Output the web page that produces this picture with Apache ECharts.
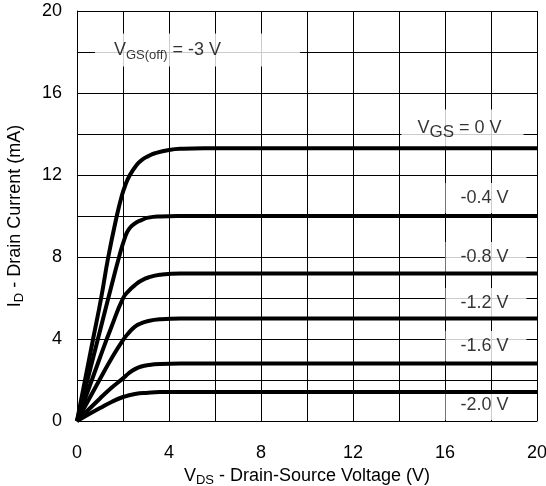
<!DOCTYPE html>
<html>
<head>
<meta charset="utf-8">
<script src="https://cdn.jsdelivr.net/npm/echarts@6/dist/echarts.min.js"></script>
<style>
  html, body { margin: 0; padding: 0; background: #fff; }
  #chart { width: 546px; height: 486px; }
</style>
</head>
<body>
<div id="chart"></div>
<script>
// drain curves: [Vds (V), Id (mA)]
var vgs0 = [[0, 0], [0.7, 4], [1.05, 6], [1.36, 8], [1.73, 10], [1.94, 10.95], [2.1, 11.5], [2.3, 12], [2.6, 12.5], [2.81, 12.73], [3.1, 12.92], [3.39, 13.06], [4, 13.22], [4.6, 13.28], [5.5, 13.3], [20, 13.3]];
var vgs04 = [[0, 0], [1, 4.4], [1.5, 6.6], [1.83, 8], [2.07, 8.9], [2.25, 9.35], [2.52, 9.64], [2.8, 9.8], [3.1, 9.92], [3.6, 9.98], [4.4, 10], [20, 10]];
var vgs08 = [[0, 0], [1, 3.1], [1.5, 4.6], [2, 5.98], [2.25, 6.35], [2.52, 6.63], [2.8, 6.85], [3.1, 7.0], [3.6, 7.13], [4.5, 7.2], [20, 7.2]];
var vgs12 = [[0, 0], [1, 2.05], [1.5, 3.05], [2, 3.95], [2.25, 4.3], [2.52, 4.6], [2.8, 4.77], [3.1, 4.88], [3.6, 4.96], [4.5, 5], [20, 5]];
var vgs16 = [[0, 0], [1, 1.1], [1.5, 1.62], [2, 2.08], [2.25, 2.33], [2.52, 2.53], [2.8, 2.66], [3.1, 2.73], [3.6, 2.78], [4.5, 2.8], [20, 2.8]];
var vgs20 = [[0, 0], [1, 0.63], [1.5, 0.93], [2, 1.17], [2.52, 1.32], [3.1, 1.38], [3.6, 1.41], [4.5, 1.42], [20, 1.42]];

var curveNames = ['0 V', '-0.4 V', '-0.8 V', '-1.2 V', '-1.6 V', '-2.0 V'];
var curves = [vgs0, vgs04, vgs08, vgs12, vgs16, vgs20];

var labelTexts = ['{v|V}{s|GS(off)}{v| = -3 V}', '{v|V}{g|GS}{v| = 0 V}', '-0.4 V', '-0.8 V', '-1.2 V', '-1.6 V', '-2.0 V'];

var font = 'Liberation Sans, Arial, sans-serif';

// where the white label boxes sit, in axis units, and their padding
var labelSpots = [
  { at: [5.24, 18.1], pad: [5, 79, 5, 19] },
  { at: [16.76, 14.29], pad: [6, 22, 6, 16] },
  { at: [17.78, 10.88], pad: [6, 18, 6, 15] },
  { at: [17.78, 8.0], pad: [6, 18, 6, 15] },
  { at: [17.78, 5.76], pad: [6, 18, 6, 15] },
  { at: [17.78, 3.66], pad: [6, 18, 6, 15] },
  { at: [17.78, 0.78], pad: [6, 18, 6, 15] }
];

var chart = echarts.init(document.getElementById('chart'));

var series = [];
for (var i = 0; i < curves.length; i++) {
  series.push({
    name: curveNames[i],
    type: 'line',
    data: curves[i],
    smooth: 0.5,
    showSymbol: false,
    lineStyle: { color: '#000', width: 4 },
    z: 5,
    animation: false
  });
}

series.push({
  type: 'scatter',
  symbolSize: 1,
  itemStyle: { color: 'rgba(0,0,0,0)' },
  z: 3,
  animation: false,
  silent: true,
  data: labelTexts.map(function (t, k) {
    return {
      value: labelSpots[k].at,
      label: {
        show: true,
        position: 'inside',
        formatter: t,
        backgroundColor: '#fff',
        padding: labelSpots[k].pad,
        color: '#000',
        fontSize: 18,
        fontFamily: font,
        rich: {
          v: { fontSize: 18, fontFamily: font, color: '#000' },
          s: { fontSize: 13, fontFamily: font, color: '#000', padding: [10, 0, 0, 0] },
          g: { fontSize: 17, fontFamily: font, color: '#000', padding: [8, 0, 0, 0] }
        }
      }
    };
  })
});

var option = {
  backgroundColor: '#fff',
  grid: { left: 77, right: 9, top: 11, bottom: 65, outerBoundsMode: 'none' },
  xAxis: {
    type: 'value',
    min: 0,
    max: 20,
    interval: 2,
    name: '{v|V}{s|DS}{v| - Drain-Source Voltage (V)}',
    nameLocation: 'middle',
    nameGap: 45,
    nameTextStyle: {
      rich: {
        v: { fontSize: 18, fontFamily: font, color: '#000' },
        s: { fontSize: 13, fontFamily: font, color: '#000', padding: [8, 0, 0, 0] }
      }
    },
    axisLine: { show: true, lineStyle: { color: '#000', width: 1 } },
    axisTick: { show: false },
    axisLabel: {
      margin: 23,
      fontSize: 18,
      fontFamily: font,
      color: '#000',
      formatter: function (v) { return v % 4 === 0 ? v : ''; }
    },
    splitLine: { show: true, lineStyle: { color: '#000', width: 1 } }
  },
  yAxis: {
    type: 'value',
    min: 0,
    max: 20,
    interval: 2,
    name: '{v|I}{s|D}{v| - Drain Current (mA)}',
    nameLocation: 'middle',
    nameGap: 51,
    nameTextStyle: {
      rich: {
        v: { fontSize: 18, fontFamily: font, color: '#000' },
        s: { fontSize: 13, fontFamily: font, color: '#000', padding: [8, 0, 0, 0] }
      }
    },
    axisLine: { show: true, lineStyle: { color: '#000', width: 1 } },
    axisTick: { show: false },
    axisLabel: {
      margin: 15,
      fontSize: 18,
      fontFamily: font,
      color: '#000',
      formatter: function (v) { return v % 4 === 0 ? v : ''; }
    },
    splitLine: { show: true, lineStyle: { color: '#000', width: 1 } }
  },
  series: series
};

chart.setOption(option);
</script>
</body>
</html>
